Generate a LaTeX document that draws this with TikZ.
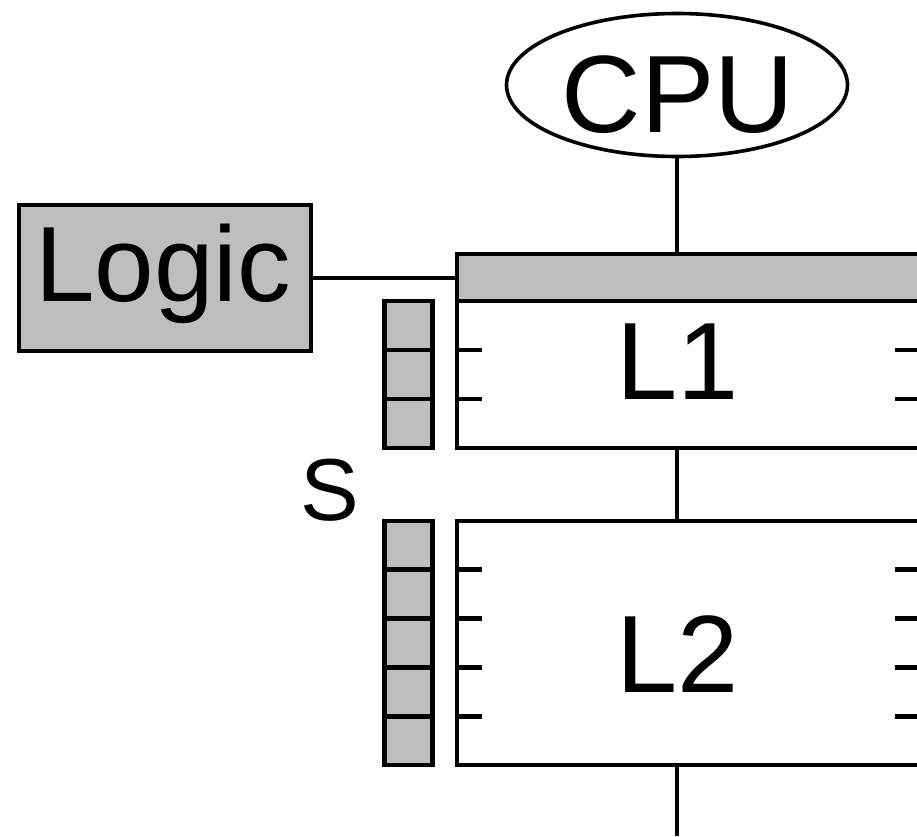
\documentclass[tikz,border=0pt]{standalone}
\usepackage{fontspec}
\setmainfont{Liberation Sans}
\usetikzlibrary{shapes.geometric,calc}
\definecolor{cellgray}{RGB}{190,190,190}
\begin{document}
\begin{tikzpicture}[x=1pt,y=-1pt,
  box/.style={rectangle, draw, line width=4.7pt, inner sep=0pt, outer sep=0pt},
  graybox/.style={box, fill=cellgray},
  cell/.style={graybox, minimum width=48pt},
  conn/.style={line width=4.7pt},
  tick/.style={line width=4.7pt},
  lbl/.style={inner sep=0pt, outer sep=0pt, anchor=base}
]
\useasboundingbox (0,0) rectangle (917,836);
\clip (0,0) rectangle (917,836);

% shapes
\node[ellipse, draw, line width=3.6pt, inner sep=0pt, outer sep=0pt,
      minimum width=341pt, minimum height=143pt] (cpu) at (677,85) {};
\node[graybox, minimum width=292pt, minimum height=146pt] (logic) at (165,278) {};
\node[graybox, minimum width=463pt, minimum height=47pt] (bar) at (688.5,277.5) {};
\node[box, minimum width=463pt, minimum height=147pt] (l1) at (688.5,374.5) {};
\node[box, minimum width=463pt, minimum height=244pt] (l2) at (688.5,643) {};

% connectors
\coordinate (bot) at (677,836);
\draw[conn] (cpu.south) -- (cpu.south |- bar.north);
\draw[conn] (logic.east) -- (logic.east -| bar.west);
\draw[conn] (cpu.south |- l1.south) -- (cpu.south |- l2.north);
\draw[conn] (cpu.south |- l2.south) -- (bot);

% register stacks
\foreach \i in {0,1,2}
  \node[cell, minimum height=49pt] (sa\i) at (408.3,{325.5+49*\i}) {};
\foreach \i in {0,...,4}
  \node[cell, minimum height=48.8pt] (sb\i) at (408.3,{545.4+48.8*\i}) {};

% ticks
\foreach \yy in {350,399}{
  \draw[tick] (457,\yy) -- (482,\yy);
  \draw[tick] (895,\yy) -- (920,\yy);
}
\foreach \yy in {569.8,618.6,667.4,716.2}{
  \draw[tick] (457,\yy) -- (482,\yy);
  \draw[tick] (895,\yy) -- (920,\yy);
}

% labels
\node[lbl, font=\fontsize{110}{110}\selectfont] (cput) at (678,132) {CPU};
\node[lbl, font=\fontsize{107}{107}\selectfont] (logict) at (163,301.5) {Logic};
\node[lbl, font=\fontsize{110}{110}\selectfont] (l1t) at (678,399) {L1};
\node[lbl, font=\fontsize{110}{110}\selectfont] (l2t) at (678,692) {L2};
\node[lbl, font=\fontsize{88}{88}\selectfont] (st) at (330,520.5) {S};
\end{tikzpicture}
\end{document}
